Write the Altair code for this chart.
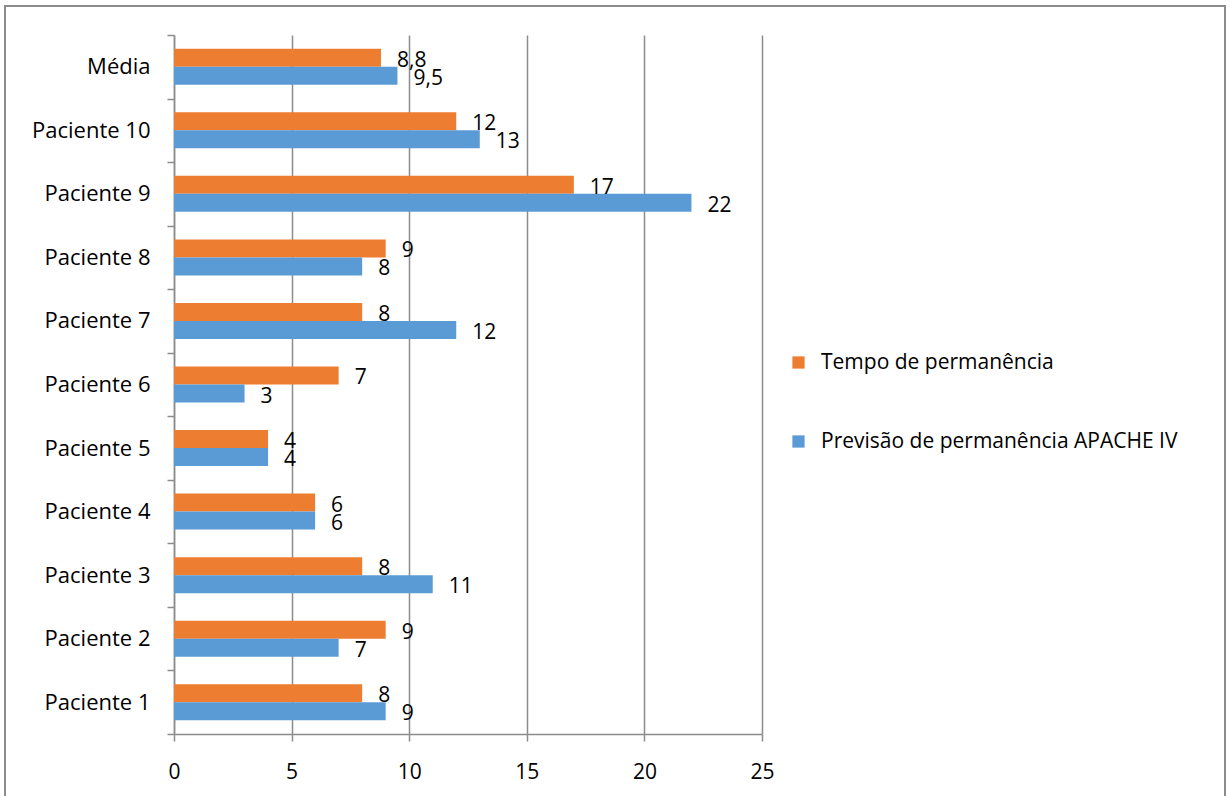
import altair as alt
import pandas as pd

# Categories, top to bottom
categorias = ["Média", "Paciente 10", "Paciente 9", "Paciente 8", "Paciente 7",
              "Paciente 6", "Paciente 5", "Paciente 4", "Paciente 3", "Paciente 2",
              "Paciente 1"]
# Length of stay (days)
tempo = [8.8, 12, 17, 9, 8, 7, 4, 6, 8, 9, 8]
# APACHE IV predicted length of stay (days)
previsao = [9.5, 13, 22, 8, 12, 3, 4, 6, 11, 7, 9]

series = ["Tempo de permanência", "Previsão de permanência APACHE IV"]
cores = ["#ED7D31", "#5B9BD5"]
x_ticks = [0, 5, 10, 15, 20, 25]

FONT = "Open Sans"
GRID = "#8c8c8c"


def rotulo(v):
    s = f"{v:g}"
    return s.replace(".", ",")


rows = []
for cat, t, p in zip(categorias, tempo, previsao):
    rows.append({"categoria": cat, "serie": series[0], "valor": t, "rotulo": rotulo(t)})
    rows.append({"categoria": cat, "serie": series[1], "valor": p, "rotulo": rotulo(p)})
df = pd.DataFrame(rows)

# Full-step category bands so ticks sit on the band boundaries;
# the gap around each pair of bars comes from the offset scale.
y_enc = alt.Y(
    "categoria:N",
    sort=categorias,
    scale=alt.Scale(paddingInner=0, paddingOuter=0),
    axis=alt.Axis(
        title="",
        grid=False,
        tickBand="extent",
        ticks=True,
        tickSize=7,
        tickColor=GRID,
        tickWidth=1.5,
        domainColor=GRID,
        domainWidth=1.5,
        labelPadding=17,
        labelFont=FONT,
        labelFontSize=22,
        labelColor="black",
    ),
)
yoff_enc = alt.YOffset(
    "serie:N", sort=series, scale=alt.Scale(paddingInner=0, paddingOuter=0.765)
)
x_enc = alt.X(
    "valor:Q",
    scale=alt.Scale(domain=[0, 25], nice=False),
    axis=alt.Axis(
        title="",
        values=x_ticks,
        grid=True,
        gridColor=GRID,
        gridWidth=1.5,
        domainColor=GRID,
        domainWidth=1.5,
        tickColor=GRID,
        tickWidth=1.5,
        tickSize=7,
        labelPadding=20,
        labelFlush=False,
        labelFont=FONT,
        labelFontSize=21,
        labelColor="black",
    ),
)

base = alt.Chart(df).encode(y=y_enc, yOffset=yoff_enc, x=x_enc)

bars = base.mark_bar(strokeWidth=0).encode(
    color=alt.Color(
        "serie:N",
        sort=series,
        scale=alt.Scale(domain=series, range=cores),
        legend=alt.Legend(
            title=None,
            orient="none",
            legendX=614,
            legendY=317,
            direction="vertical",
            symbolType="square",
            symbolSize=150,
            symbolStrokeWidth=0,
            labelFont=FONT,
            labelFontSize=21,
            labelColor="black",
            labelOffset=12,
            labelLimit=0,
            rowPadding=57,
            padding=0,
        ),
    )
)

labels = base.mark_text(
    align="left", baseline="middle", dx=16, dy=3,
    font=FONT, fontSize=21, color="black",
).encode(text="rotulo:N")

# Outer chart frame
frame = alt.Chart(pd.DataFrame({"k": [0]})).mark_rect(
    fillOpacity=0, stroke="#8c8c8c", strokeWidth=2
).encode(
    x=alt.value(-169), x2=alt.value(1051), y=alt.value(-29), y2=alt.value(800)
)

chart = alt.layer(frame, bars, labels).properties(
    width=588,
    height=699,
    autosize=alt.AutoSizeParams(type="none"),
    padding={"left": 174, "top": 35, "right": 468, "bottom": 62},
    background="white",
).configure_view(stroke="transparent")

chart.save("out.html", embed_options={"renderer": "svg", "actions": False})
